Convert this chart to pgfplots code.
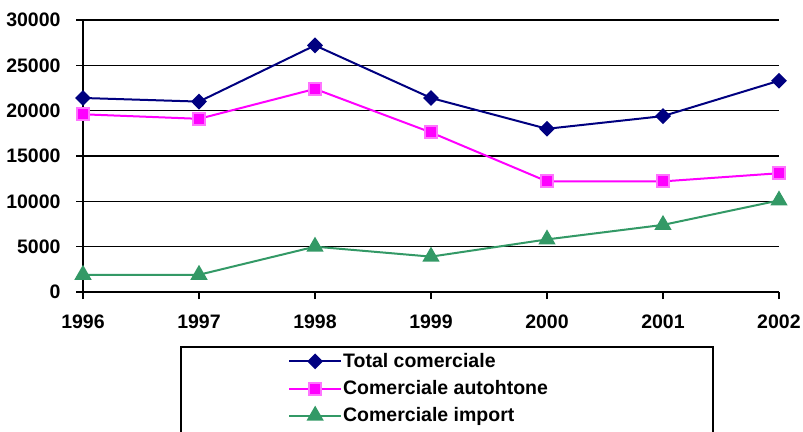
\documentclass[border=0pt]{standalone}
\usepackage{pgfplots}
\pgfplotsset{compat=1.18}
\usepackage{fontspec}
\setmainfont{Liberation Sans}
\definecolor{navyblue}{RGB}{0,0,128}
\definecolor{seagreen}{RGB}{51,153,102}
\definecolor{pinkline}{RGB}{255,0,255}
\begin{document}
\begin{tikzpicture}[font=\fontsize{19.5bp}{23bp}\selectfont\bfseries]
\begin{axis}[
  scale only axis,
  width=696bp, height=272bp,
  xmin=1996, xmax=2002,
  ymin=0, ymax=30000,
  axis x line*=bottom, axis y line*=left,
  axis line style={-, black, line width=1.6bp},
  xtick={1996,1997,...,2002},
  ytick={0,5000,...,30000},
  ymajorgrids,
  grid style={black, line width=1.4bp},
  tick style={black, line width=1.4bp},
  tick align=outside, major tick length=7bp,
  xticklabel style={yshift=-12bp},
  yticklabel style={xshift=-12bp},
  scaled y ticks=false,
  /pgf/number format/1000 sep={},
  /pgf/number format/assume math mode=true,
  clip=false,
  legend cell align=left,
  legend style={draw=none, fill=none, anchor=north west,
    at={(axis description cs:0.2945,-0.222)},
    row sep=9.5bp, inner sep=0pt,
    nodes={inner sep=1bp}},
  legend image code/.code={%
    \draw[#1, mark repeat=2, mark phase=2] plot coordinates {(0bp,0bp) (26bp,0bp) (52bp,0bp)};},
]
\addplot[navyblue, line width=2bp, mark=diamond*, mark size=6.5bp,
  mark options={xscale=1.33, solid, fill=navyblue}]
  coordinates {(1996,21400) (1997,21000) (1998,27200) (1999,21400) (2000,18000) (2001,19400) (2002,23300)};
\addplot[pinkline, line width=2bp, mark=square*, mark size=6bp,
  mark options={solid, fill=pinkline, draw=pinkline!55}]
  coordinates {(1996,19600) (1997,19100) (1998,22400) (1999,17600) (2000,12200) (2001,12200) (2002,13100)};
\addplot[seagreen, line width=2bp, mark=triangle*, mark size=8bp,
  mark options={solid, fill=seagreen}]
  coordinates {(1996,1900) (1997,1900) (1998,5000) (1999,3900) (2000,5800) (2001,7400) (2002,10100)};
\legend{Total comerciale, Comerciale autohtone, Comerciale import}
\end{axis}
\draw[black, line width=1.4bp] (98bp,-55bp) rectangle (630bp,-160bp);
\pgfresetboundingbox
\useasboundingbox (-83bp,-140bp) rectangle (720bp,292bp);
\end{tikzpicture}
\end{document}
